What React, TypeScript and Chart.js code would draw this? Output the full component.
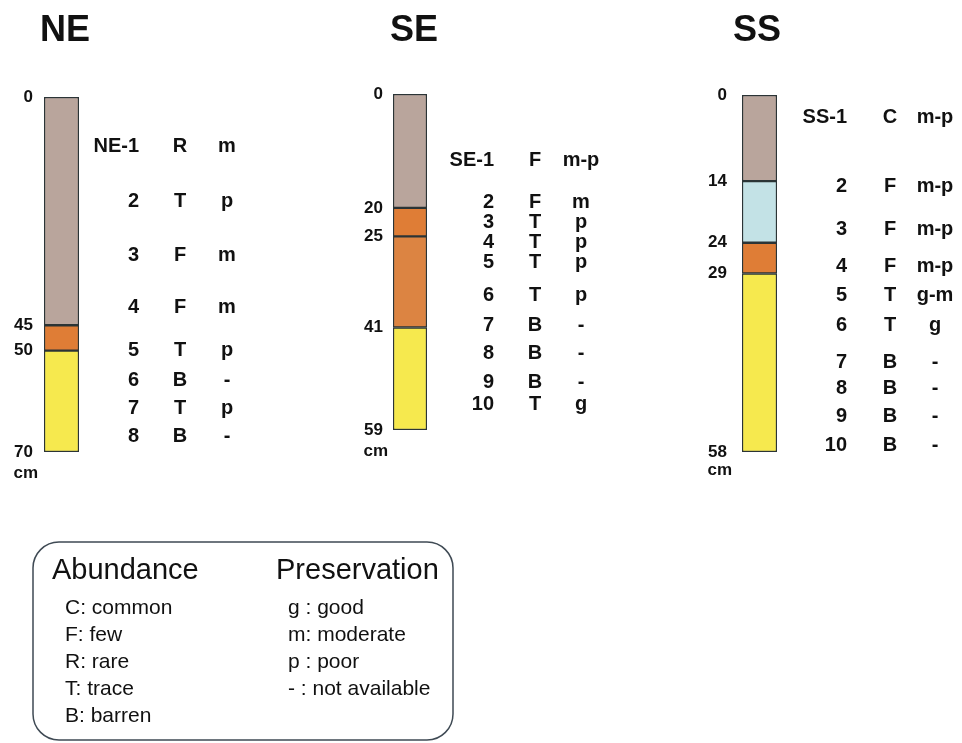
import React, { useEffect, useRef } from 'react';
import { Chart, registerables } from 'chart.js';

Chart.register(...registerables);

// ---------- DATA ----------
const columnNames = ['NE', 'SE', 'SS'];

// NE core
const neDepthTicks = [0, 45, 50, 70];
const neLayerTop = [0, 45, 50];
const neLayerBottom = [45, 50, 70];
const neSampleIds = ['NE-1', '2', '3', '4', '5', '6', '7', '8'];
const neAbundance = ['R', 'T', 'F', 'F', 'T', 'B', 'T', 'B'];
const nePreservation = ['m', 'p', 'm', 'm', 'p', '-', 'p', '-'];
const neSampleDepths = [9.7, 20.7, 31.2, 41.6, 50.0, 55.8, 61.5, 67.0];

// SE core
const seDepthTicks = [0, 20, 25, 41, 59];
const seLayerTop = [0, 20, 25, 41];
const seLayerBottom = [20, 25, 41, 59];
const seSampleIds = ['SE-1', '2', '3', '4', '5', '6', '7', '8', '9', '10'];
const seAbundance = ['F', 'F', 'T', 'T', 'T', 'T', 'B', 'B', 'B', 'T'];
const sePreservation = ['m-p', 'm', 'p', 'p', 'p', 'p', '-', '-', '-', 'g'];
const seSampleDepths = [11.6, 19.0, 22.5, 26.0, 29.5, 35.3, 40.6, 45.5, 50.6, 54.6];

// SS core
const ssDepthTicks = [0, 14, 24, 29, 58];
const ssLayerTop = [0, 14, 24, 29];
const ssLayerBottom = [14, 24, 29, 58];
const ssSampleIds = ['SS-1', '2', '3', '4', '5', '6', '7', '8', '9', '10'];
const ssAbundance = ['C', 'F', 'F', 'F', 'T', 'T', 'B', 'B', 'B', 'B'];
const ssPreservation = ['m-p', 'm-p', 'm-p', 'm-p', 'g-m', 'g', '-', '-', '-', '-'];
const ssSampleDepths = [3.7, 14.9, 21.9, 27.9, 32.5, 37.4, 43.4, 47.6, 52.3, 56.9];

const depthUnit = 'cm';

// Legend
const abundanceTitle = 'Abundance';
const abundanceKey = ['C: common', 'F: few', 'R: rare', 'T: trace', 'B: barren'];
const preservationTitle = 'Preservation';
const preservationKey = ['g : good', 'm: moderate', 'p : poor', '- : not available'];

// ---------- STYLE / LAYOUT ----------
const W = 962;
const H = 743;
const FONT = "'Liberation Sans', Arial, Helvetica, sans-serif";
const BORDER = '#2b3436';
const C_GRAY = '#b9a59c';
const C_ORANGE = '#df7d36';
const C_ORANGE2 = '#dc8442';
const C_YELLOW = '#f6e94e';
const C_BLUE = '#c3e2e6';

const columns = [
  {
    name: columnNames[0], ticks: neDepthTicks, top: neLayerTop, bottom: neLayerBottom,
    colors: [C_GRAY, C_ORANGE, C_YELLOW],
    ids: neSampleIds, abund: neAbundance, pres: nePreservation, depths: neSampleDepths,
    barLeft: 44, barRight: 79, plotTop: 97, plotBottom: 452, tickRight: 33,
    idRight: 139, abundX: 180, presX: 227, titleX: 65, cmDy: 21,
  },
  {
    name: columnNames[1], ticks: seDepthTicks, top: seLayerTop, bottom: seLayerBottom,
    colors: [C_GRAY, C_ORANGE, C_ORANGE2, C_YELLOW],
    ids: seSampleIds, abund: seAbundance, pres: sePreservation, depths: seSampleDepths,
    barLeft: 393, barRight: 427, plotTop: 94, plotBottom: 430, tickRight: 383,
    idRight: 494, abundX: 535, presX: 581, titleX: 414, cmDy: 21,
  },
  {
    name: columnNames[2], ticks: ssDepthTicks, top: ssLayerTop, bottom: ssLayerBottom,
    colors: [C_GRAY, C_BLUE, C_ORANGE, C_YELLOW],
    ids: ssSampleIds, abund: ssAbundance, pres: ssPreservation, depths: ssSampleDepths,
    barLeft: 742, barRight: 777, plotTop: 95, plotBottom: 452, tickRight: 727,
    idRight: 847, abundX: 890, presX: 935, titleX: 757, cmDy: 18,
  },
];

function drawLegend(ctx: CanvasRenderingContext2D) {
  ctx.save();
  ctx.strokeStyle = '#3f4a54';
  ctx.lineWidth = 1.5;
  ctx.beginPath();
  const x = 33, y = 542, w = 420, h = 198, r = 26;
  ctx.moveTo(x + r, y);
  ctx.lineTo(x + w - r, y);
  ctx.arcTo(x + w, y, x + w, y + r, r);
  ctx.lineTo(x + w, y + h - r);
  ctx.arcTo(x + w, y + h, x + w - r, y + h, r);
  ctx.lineTo(x + r, y + h);
  ctx.arcTo(x, y + h, x, y + h - r, r);
  ctx.lineTo(x, y + r);
  ctx.arcTo(x, y, x + r, y, r);
  ctx.closePath();
  ctx.stroke();

  ctx.fillStyle = '#111';
  ctx.textBaseline = 'middle';
  ctx.textAlign = 'left';
  ctx.font = `29px ${FONT}`;
  ctx.fillText(abundanceTitle, 52, 571);
  ctx.fillText(preservationTitle, 276, 571);
  ctx.font = `21px ${FONT}`;
  abundanceKey.forEach((t, i) => ctx.fillText(t, 65, 608 + i * 27));
  preservationKey.forEach((t, i) => ctx.fillText(t, 288, 608 + i * 27));
  ctx.restore();
}

function makeConfig(col: any, withLegend: boolean): any {
  const datasets = col.top.map((t: number, i: number) => ({
    label: `${col.name}-${i}`,
    data: [[t, col.bottom[i]]],
    backgroundColor: col.colors[i],
    borderColor: BORDER,
    borderWidth: 1.5,
    borderSkipped: false,
    grouped: false,
    categoryPercentage: 1,
    barPercentage: 1,
  }));

  const textPlugin = {
    id: 'coreText',
    afterDraw(chart: any) {
      const ctx: CanvasRenderingContext2D = chart.ctx;
      const y = chart.scales.y;
      ctx.save();
      ctx.fillStyle = '#111';
      ctx.textBaseline = 'middle';
      // title
      ctx.font = `bold 36px ${FONT}`;
      ctx.textAlign = 'center';
      ctx.fillText(col.name, col.titleX, 31);
      // unit
      ctx.font = `bold 17px ${FONT}`;
      ctx.textAlign = 'right';
      const last = col.ticks[col.ticks.length - 1];
      ctx.fillText(depthUnit, col.tickRight + 5, y.getPixelForValue(last) + col.cmDy);
      // samples
      ctx.font = `bold 20px ${FONT}`;
      col.depths.forEach((d: number, i: number) => {
        const py = y.getPixelForValue(d);
        ctx.textAlign = 'right';
        ctx.fillText(col.ids[i], col.idRight, py);
        ctx.textAlign = 'center';
        ctx.fillText(col.abund[i], col.abundX, py);
        ctx.fillText(col.pres[i], col.presX, py);
      });
      ctx.restore();
      if (withLegend) drawLegend(ctx);
    },
  };

  return {
    type: 'bar',
    data: { labels: [col.name], datasets },
    options: {
      animation: false,
      responsive: false,
      maintainAspectRatio: false,
      events: [],
      layout: {
        padding: { left: 0, right: W - col.barRight, top: col.plotTop, bottom: H - col.plotBottom },
      },
      plugins: {
        legend: { display: false },
        title: { display: false },
        tooltip: { enabled: false },
      },
      scales: {
        x: { display: false, offset: true },
        y: {
          type: 'linear',
          reverse: true,
          min: 0,
          max: col.ticks[col.ticks.length - 1],
          afterBuildTicks: (s: any) => {
            s.ticks = col.ticks.map((v: number) => ({ value: v }));
          },
          afterFit: (s: any) => {
            s.width = col.barLeft;
          },
          grid: { display: false, drawTicks: false },
          border: { display: false },
          ticks: {
            autoSkip: false,
            padding: col.barLeft - col.tickRight,
            color: '#111',
            font: { family: FONT, size: 17, weight: 'bold' },
          },
        },
      },
    },
    plugins: [textPlugin],
  };
}

export default function App() {
  const r0 = useRef<HTMLCanvasElement>(null);
  const r1 = useRef<HTMLCanvasElement>(null);
  const r2 = useRef<HTMLCanvasElement>(null);

  useEffect(() => {
    const refs = [r0, r1, r2];
    const charts = refs.map((r, i) => new Chart(r.current as HTMLCanvasElement, makeConfig(columns[i], i === 0)));
    return () => charts.forEach((c) => c.destroy());
  }, []);

  const style: React.CSSProperties = { position: 'absolute', left: 0, top: 0, width: W, height: H };
  return (
    <div style={{ position: 'absolute', left: 0, top: 0, width: W, height: H, background: '#fff' }}>
      <canvas ref={r0} width={W} height={H} style={style} />
      <canvas ref={r1} width={W} height={H} style={style} />
      <canvas ref={r2} width={W} height={H} style={style} />
    </div>
  );
}
